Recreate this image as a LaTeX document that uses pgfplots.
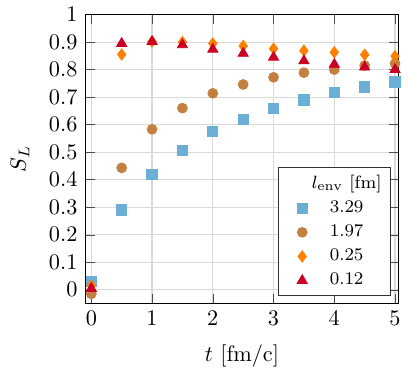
\documentclass[border=0pt]{standalone}
\usepackage{pgfplots}
\pgfplotsset{compat=1.18}
\definecolor{cblue}{RGB}{107,174,214}
\definecolor{cbrown}{RGB}{196,128,64}
\definecolor{corange}{RGB}{255,127,0}
\definecolor{cred}{RGB}{204,0,34}
\begin{document}
\begin{tikzpicture}
\begin{axis}[
  scale only axis,
  width=141pt, height=130pt,
  xmin=-0.1, xmax=5.06,
  ymin=-0.05, ymax=1,
  xtick={0,1,2,3,4,5},
  ytick={0,0.1,0.2,0.3,0.4,0.5,0.6,0.7,0.8,0.9,1},
  yticklabel style={/pgf/number format/fixed,/pgf/number format/precision=1},
  grid=major,
  grid style={gray!30, line width=0.5pt},
  tick style={black!70},
  xlabel={$t$ [fm/c]},
  ylabel={$S_L$},
  ylabel style={yshift=2pt},
  xlabel style={yshift=-1.5pt},
  legend style={at={(0.975,0.025)}, anchor=south east, draw=black!80, row sep=0pt,
    font=\footnotesize, nodes={font=\footnotesize}, inner xsep=2pt, inner ysep=1.5pt},
  legend cell align=center,
]
\addlegendimage{empty legend}
\addlegendentry{$l_{\mathrm{env}}$ [fm]}
\addplot[only marks, mark=square*, mark size=2.3pt, color=cblue] coordinates {
(0,0.03)(0.5,0.29)(1,0.42)(1.5,0.505)(2,0.574)(2.5,0.62)(3,0.66)(3.5,0.69)(4,0.717)(4.5,0.737)(5,0.755)};
\addlegendentry{3.29}
\addplot[only marks, mark=*, mark size=2.2pt, color=cbrown] coordinates {
(0,-0.015)(0.5,0.443)(1,0.583)(1.5,0.66)(2,0.714)(2.5,0.746)(3,0.772)(3.5,0.789)(4,0.80)(4.5,0.815)(5,0.822)};
\addlegendentry{1.97}
\addplot[only marks, mark=diamond*, mark size=2.5pt, color=corange] coordinates {
(0,0.015)(0.5,0.855)(1,0.902)(1.5,0.90)(2,0.895)(2.5,0.886)(3,0.876)(3.5,0.869)(4,0.863)(4.5,0.854)(5,0.849)};
\addlegendentry{0.25}
\addplot[only marks, mark=triangle*, mark size=2.6pt, color=cred] coordinates {
(0,0.005)(0.5,0.895)(1,0.902)(1.5,0.89)(2,0.874)(2.5,0.859)(3,0.845)(3.5,0.832)(4,0.819)(4.5,0.809)(5,0.80)};
\addlegendentry{0.12}
\end{axis}
\path (current bounding box.west) ++(-1.5pt,0) coordinate (padleft);
\end{tikzpicture}
\end{document}
